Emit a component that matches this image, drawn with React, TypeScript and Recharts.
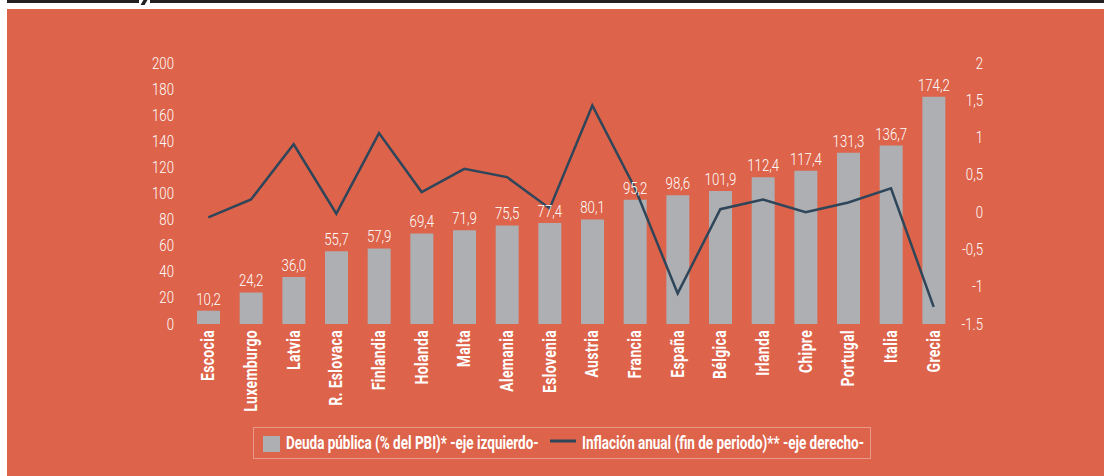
import React from 'react';
import { ComposedChart, Bar, Line, XAxis, YAxis, CartesianGrid, LabelList } from 'recharts';

const categories = ['Escocia', 'Luxemburgo', 'Latvia', 'R. Eslovaca', 'Finlandia', 'Holanda', 'Malta', 'Alemania', 'Eslovenia', 'Austria', 'Francia', 'España', 'Bélgica', 'Irlanda', 'Chipre', 'Portugal', 'Italia', 'Grecia'];
const deuda = [10.2, 24.2, 36.0, 55.7, 57.9, 69.4, 71.9, 75.5, 77.4, 80.1, 95.2, 98.6, 101.9, 112.4, 117.4, 131.3, 136.7, 174.2];
const inflacion = [-0.07, 0.17, 0.91, -0.02, 1.06, 0.27, 0.58, 0.47, 0.05, 1.43, 0.32, -1.09, 0.04, 0.17, 0.0, 0.13, 0.32, -1.27];
const leftTicks = [0, 20, 40, 60, 80, 100, 120, 140, 160, 180, 200];
const rightTicks = [-1.5, -1, -0.5, 0, 0.5, 1, 1.5, 2];
const rightTickLabels = ['-1.5', '-1', '-0,5', '0', '0,5', '1', '1,5', '2'];
const legendLabels = ['Deuda pública (% del PBI)* -eje izquierdo-', 'Inflación anual (fin de periodo)** -eje derecho-'];

const data = categories.map((name, i) => ({ name, deuda: deuda[i], inflacion: inflacion[i] }));

const BG = '#dd634a';
const GRID = '#e88f7c';
const BAR = '#adafb2';
const LINE = '#2f465a';
const TEXT = '#ffffff';
const FONT = "Roboto, 'Liberation Sans', sans-serif";
const NUM_SCALE = 0.8;
const LBL_SCALE = 0.8;

const XTick = (props: any) => {
  const { x, y, payload } = props;
  const ty = y + 6;
  return (
    <text transform={`translate(${x}, ${ty}) rotate(-90) scale(${LBL_SCALE}, 1)`} x={0} y={0} textAnchor="end" dominantBaseline="central"
      fill={TEXT} fontFamily={FONT} fontWeight="bold" fontSize={17.5} letterSpacing={0.4}>
      {payload.value}
    </text>
  );
};

const RightTick = (props: any) => {
  const { x, y, payload } = props;
  const idx = rightTicks.indexOf(payload.value);
  return (
    <text transform={`translate(${x + 28}, ${y}) scale(${NUM_SCALE}, 1)`} x={0} y={0} textAnchor="end" dominantBaseline="central"
      fill={TEXT} fontFamily={FONT} fontWeight={300} fontSize={16.5}>
      {idx >= 0 ? rightTickLabels[idx] : payload.value}
    </text>
  );
};

const LeftTick = (props: any) => {
  const { x, y, payload } = props;
  return (
    <text transform={`translate(${x}, ${y}) scale(${NUM_SCALE}, 1)`} x={0} y={0} textAnchor="end" dominantBaseline="central"
      fill={TEXT} fontFamily={FONT} fontWeight={300} fontSize={16.5}>
      {payload.value}
    </text>
  );
};

const fmt = (v: any) => Number(v).toFixed(1).replace('.', ',');

const BarLabel = (props: any) => {
  const { x, y, width, value } = props;
  const cx = Number(x) + Number(width) / 2;
  const cy = Number(y) - 6;
  return (
    <text transform={`translate(${cx}, ${cy}) scale(${NUM_SCALE}, 1)`} x={0} y={0} textAnchor="middle"
      fill={TEXT} fontFamily={FONT} fontWeight={300} fontSize={16.5}>
      {fmt(value)}
    </text>
  );
};

const LEG_SCALE = 0.77;

export default function App() {
  return (
    <div style={{ position: 'fixed', left: 0, top: 0, width: 1104, height: 476, background: '#ffffff', overflow: 'hidden' }}>
      <div style={{ position: 'absolute', left: 7, top: 0, width: 132, height: 3, background: '#231f20' }} />
      <div style={{ position: 'absolute', left: 150, top: 0, width: 960, height: 3, background: '#231f20' }} />
      <div style={{ position: 'absolute', left: 142, top: 0, width: 4, height: 5, background: '#231f20', transform: 'skewX(-30deg)' }} />
      <div style={{ position: 'absolute', left: 7, top: 9, width: 1097, height: 467, background: BG }} />
      <div style={{ position: 'absolute', left: 0, top: 0 }}>
        <ComposedChart width={1104} height={476} data={data} margin={{ top: 63, right: 109, bottom: 52, left: 147 }}>
          <CartesianGrid vertical={false} stroke={GRID} strokeWidth={2} horizontalValues={leftTicks} />
          <XAxis dataKey="name" interval={0} tickLine={false} axisLine={false} tickSize={0} tickMargin={0} height={100} tick={<XTick />} />
          <YAxis yAxisId="left" orientation="left" domain={[0, 200]} ticks={leftTicks} interval={0} width={40}
            tickLine={false} axisLine={false} tickSize={0} tickMargin={13} tick={<LeftTick />} />
          <YAxis yAxisId="right" orientation="right" domain={[-1.5, 2]} ticks={rightTicks} interval={0} width={40}
            tickLine={false} axisLine={false} tickSize={0} tickMargin={0} tick={<RightTick />} />
          <Bar yAxisId="left" dataKey="deuda" fill={BAR} barSize={23} isAnimationActive={false}>
            <LabelList dataKey="deuda" content={<BarLabel />} />
          </Bar>
          <Line yAxisId="right" dataKey="inflacion" type="linear" stroke={LINE} strokeWidth={2.5} dot={false} activeDot={false} isAnimationActive={false} />
        </ComposedChart>
      </div>
      <svg width={1104} height={476} style={{ position: 'absolute', left: 0, top: 0, pointerEvents: 'none' }}>
        <rect x={253.5} y={427.5} width={617} height={31} fill="none" stroke="rgba(255,255,255,0.35)" strokeWidth={1} />
        <rect x={263} y={436} width={17} height={16} fill={BAR} />
        <text transform={`translate(286, 448.5) scale(${LEG_SCALE}, 1)`} x={0} y={0} fill={TEXT} fontFamily={FONT} fontWeight="bold" fontSize={17.5}>
          {legendLabels[0]}
        </text>
        <line x1={550} x2={576} y1={441} y2={441} stroke={LINE} strokeWidth={3} />
        <text transform={`translate(582, 448.5) scale(${LEG_SCALE}, 1)`} x={0} y={0} fill={TEXT} fontFamily={FONT} fontWeight="bold" fontSize={17.5}>
          {legendLabels[1]}
        </text>
      </svg>
    </div>
  );
}
